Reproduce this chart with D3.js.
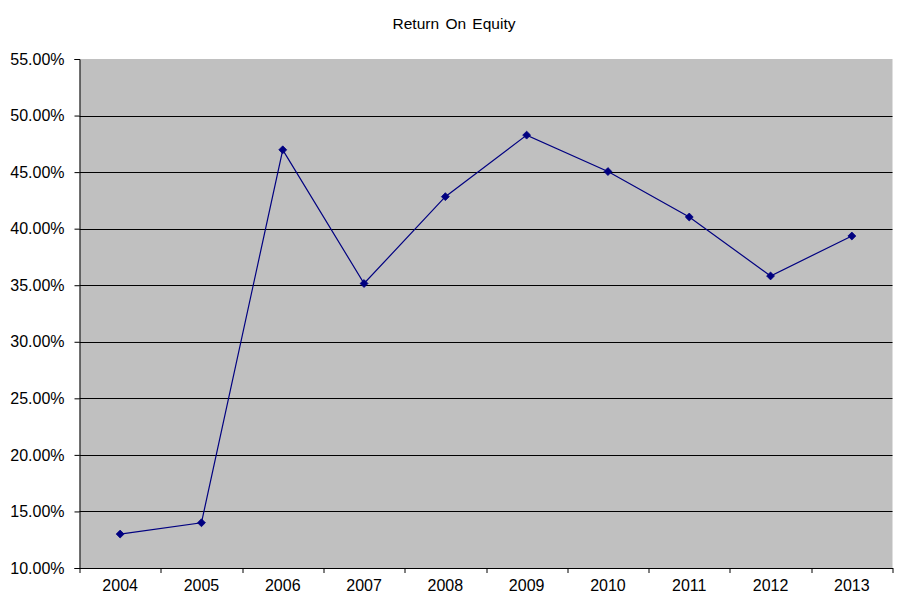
<!DOCTYPE html>
<html>
<head>
<meta charset="utf-8">
<script src="https://cdn.jsdelivr.net/npm/d3@7"></script>
<style>
  body { margin: 0; background: #fff; }
  text { font-family: Arial, "Liberation Sans", sans-serif; fill: #000; }
</style>
</head>
<body>
<div id="chart"></div>
<script>
// Return On Equity, 2004 - 2013
var years = ["2004", "2005", "2006", "2007", "2008", "2009", "2010", "2011", "2012", "2013"];
var roe = [0.1300, 0.1400, 0.4697, 0.3515, 0.4283, 0.4827, 0.4505, 0.4103, 0.3582, 0.3935];
var yTicks = [0.10, 0.15, 0.20, 0.25, 0.30, 0.35, 0.40, 0.45, 0.50, 0.55];

var W = 912, H = 613;
var margin = {top: 59, right: 19.5, bottom: 45, left: 79.5}
  , width = W - margin.left - margin.right
  , height = H - margin.top - margin.bottom;

var svg = d3.select("#chart").append("svg")
    .attr("width", W)
    .attr("height", H);

svg.append("text")
    .attr("x", 454)
    .attr("y", 29)
    .attr("text-anchor", "middle")
    .style("font-size", "15.5px")
    .style("word-spacing", "2px")
    .text("Return On Equity");

var g = svg.append("g")
    .attr("transform", "translate(" + margin.left + "," + margin.top + ")");

var xScale = d3.scaleBand()
    .domain(years)
    .range([0, width]);

var yScale = d3.scaleLinear()
    .domain([0.10, 0.55])
    .range([height, 0]);

// plot background
g.append("rect")
    .attr("width", width)
    .attr("height", height)
    .attr("fill", "#c0c0c0");

// gridlines (not on the top or bottom edge)
g.selectAll(".grid")
    .data(yTicks.filter(function(d) { return d > 0.101 && d < 0.549; }))
  .enter().append("line")
    .attr("class", "grid")
    .attr("x1", 0)
    .attr("x2", width)
    .attr("y1", function(d) { return Math.round(yScale(d)) + 0.5; })
    .attr("y2", function(d) { return Math.round(yScale(d)) + 0.5; })
    .attr("stroke", "#000")
    .attr("stroke-width", 1);

// y axis
var yAxis = g.append("g")
    .attr("class", "y axis")
    .call(d3.axisLeft(yScale)
      .tickValues(yTicks)
      .tickFormat(d3.format(".2%"))
      .tickSize(5)
      .tickPadding(10));
yAxis.selectAll("text").style("font-size", "16px");

// x axis, ticks between categories
var xAxis = g.append("g")
    .attr("class", "x axis")
    .attr("transform", "translate(0," + height + ")")
    .call(d3.axisBottom(xScale).tickSize(0).tickPadding(12));
xAxis.selectAll("text").style("font-size", "16px");

g.append("g")
    .attr("transform", "translate(0," + height + ")")
    .selectAll("line")
    .data(d3.range(years.length + 1))
  .enter().append("line")
    .attr("x1", function(i) { return Math.round(i * xScale.step()) + 0.5; })
    .attr("x2", function(i) { return Math.round(i * xScale.step()) + 0.5; })
    .attr("y1", 0)
    .attr("y2", 5)
    .attr("stroke", "#000");

g.selectAll(".axis path").attr("stroke", "#000");
g.selectAll(".axis line").attr("stroke", "#000");

// line
var line = d3.line()
    .x(function(d, i) { return xScale(years[i]) + xScale.bandwidth() / 2; })
    .y(function(d) { return yScale(d); });

g.append("path")
    .datum(roe)
    .attr("fill", "none")
    .attr("stroke", "#000080")
    .attr("stroke-width", 1.2)
    .attr("d", line);

// diamond markers
var diamond = d3.symbol().type(d3.symbolDiamond2).size(40);
g.selectAll(".dot")
    .data(roe)
  .enter().append("path")
    .attr("class", "dot")
    .attr("d", diamond)
    .attr("transform", function(d, i) {
      return "translate(" + (xScale(years[i]) + xScale.bandwidth() / 2) + "," + yScale(d) + ")";
    })
    .attr("fill", "#000080")
    .attr("stroke", "#000080")
    .attr("stroke-width", 0.8);
</script>
</body>
</html>
